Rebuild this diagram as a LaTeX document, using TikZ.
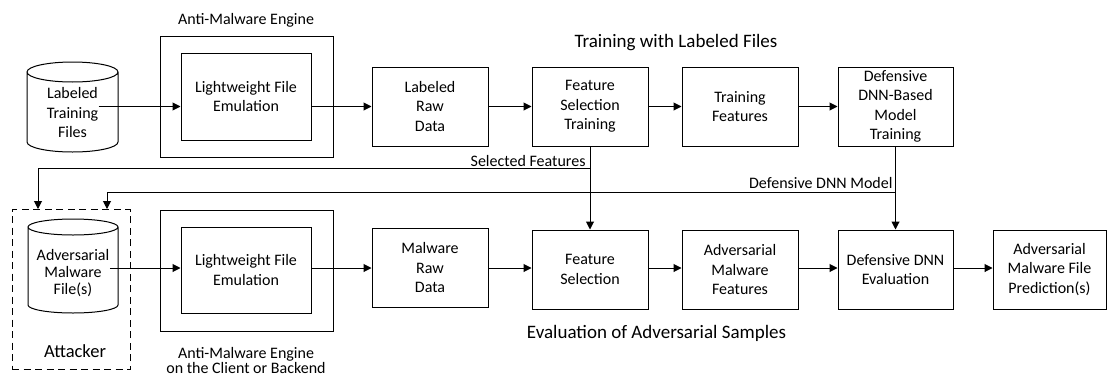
\documentclass[tikz,border=0pt]{standalone}
\usepackage{fontspec}
\setmainfont{Carlito}
\usetikzlibrary{arrows.meta,calc}
\begin{document}
\begin{tikzpicture}[x=1pt,y=-1pt,line width=1pt,
  font=\fontsize{16}{19.5}\selectfont,
  box/.style={draw,minimum width=116pt,minimum height=79pt,align=center,inner sep=2pt},
  plain/.style={align=center,inner sep=0pt},
  arr/.style={-{Triangle[length=8pt,width=8pt]}},
  dashbox/.style={draw,dash pattern=on 7pt off 4.5pt}]
\useasboundingbox (0,0) rectangle (1107,375);

% ---------- top row ----------
\node[plain] (cyl1) at (72.5,113) {Labeled\\Training\\Files};
\draw ($(cyl1)+(-45.5,-41)$) -- ($(cyl1)+(-45.5,29)$)
  arc[start angle=180,end angle=360,x radius=45.5pt,y radius=10pt]
  -- ($(cyl1)+(45.5,-41)$)
  arc[start angle=0,end angle=360,x radius=45.5pt,y radius=10pt];

\node[draw,minimum width=173pt,minimum height=121pt] (eng1) at (246.5,96.5) {};
\node[draw,minimum width=130pt,minimum height=87pt,align=center] (emu1) at (246,96.5) {Lightweight File\\Emulation};
\node[plain,anchor=base] (eng1lab) at (246,24) {Anti-Malware Engine};

\node[box] (lrd) at (430,106.5) {Labeled\\Raw\\Data};
\node[box] (fst) at (590,106.5) {Feature\\Selection\\Training};
\node[box] (tf) at (740,106.5) {Training\\Features};
\node[box,minimum width=115pt] (ddmt) at (895.5,106.5) {Defensive\\DNN-Based\\Model\\Training};
\node[plain,anchor=base,font=\fontsize{19}{22}\selectfont] (title1) at (676,47) {Training with Labeled Files};

\draw[arr] (cyl1.east |- lrd.west) -- (emu1.west |- lrd.west);
\draw[arr] (emu1.east |- lrd.west) -- (lrd.west);
\draw[arr] (lrd) -- (fst);
\draw[arr] (fst) -- (tf);
\draw[arr] (tf) -- (ddmt);

% ---------- bottom row ----------
\node[dashbox,minimum width=118pt,minimum height=160pt] (att) at (71,289.5) {};
\node[plain,font=\fontsize{16}{17}\selectfont] (cyl2) at (73,273.5) {Adversarial\\Malware\\File(s)};
\draw ($(cyl2)+(-45,-46.5)$) -- ($(cyl2)+(-45,31.5)$)
  arc[start angle=180,end angle=360,x radius=45pt,y radius=8pt]
  -- ($(cyl2)+(45,-46.5)$)
  arc[start angle=0,end angle=360,x radius=45pt,y radius=8pt];
\node[plain,anchor=base,font=\fontsize{18.5}{22}\selectfont] (attlab) at (75,357) {Attacker};

\node[draw,minimum width=173pt,minimum height=121pt] (eng2) at (246.5,270.5) {};
\node[draw,minimum width=130pt,minimum height=86pt,align=center] (emu2) at (246,270) {Lightweight File\\Emulation};
\node[plain,anchor=base,font=\fontsize{16}{15.5}\selectfont] (eng2lab) at (246,358) {Anti-Malware Engine};
\node[plain,anchor=base] (eng2lab2) at (246,373) {on the Client or Backend};

\node[box] (mrd) at (430,267.5) {Malware\\Raw\\Data};
\node[box] (fs) at (590,269.5) {Feature\\Selection};
\node[box] (amf) at (740,269.5) {Adversarial\\Malware\\Features};
\node[box,minimum width=115pt] (dde) at (895.5,269.5) {Defensive DNN\\Evaluation};
\node[box,minimum width=113pt] (amfp) at (1049.5,269.5) {Adversarial\\Malware File\\Prediction(s)};
\node[plain,anchor=base,font=\fontsize{19}{22}\selectfont] (title2) at (656.5,338) {Evaluation of Adversarial Samples};

\draw[arr] (cyl2.east |- 0,268) -- (emu2.west |- 0,268);
\draw[arr] (emu2.east |- 0,268) -- (mrd.west |- 0,268);
\draw[arr] (mrd.east |- 0,268) -- (fs.west |- 0,268);
\draw[arr] (fs.east |- 0,268) -- (amf.west |- 0,268);
\draw[arr] (amf.east |- 0,268) -- (dde.west |- 0,268);
\draw[arr] (dde.east |- 0,268) -- (amfp.west |- 0,268);

% ---------- feedback connectors ----------
\coordinate (j1) at (fst.south |- 0,168);
\coordinate (t1) at (38,209);
\coordinate (j2) at (ddmt.south |- 0,192);
\coordinate (t2) at (107,209);
\draw[arr] (fst.south) -- (fs.north);
\draw[arr] (j1) -| (t1);
\draw[arr] (ddmt.south) -- (dde.north);
\draw[arr] (j2) -| (t2);
\node[plain,anchor=base east] (sflab) at (586,166) {Selected Features};
\node[plain,anchor=base east] (dmlab) at (893,188) {Defensive DNN Model};
\end{tikzpicture}
\end{document}
